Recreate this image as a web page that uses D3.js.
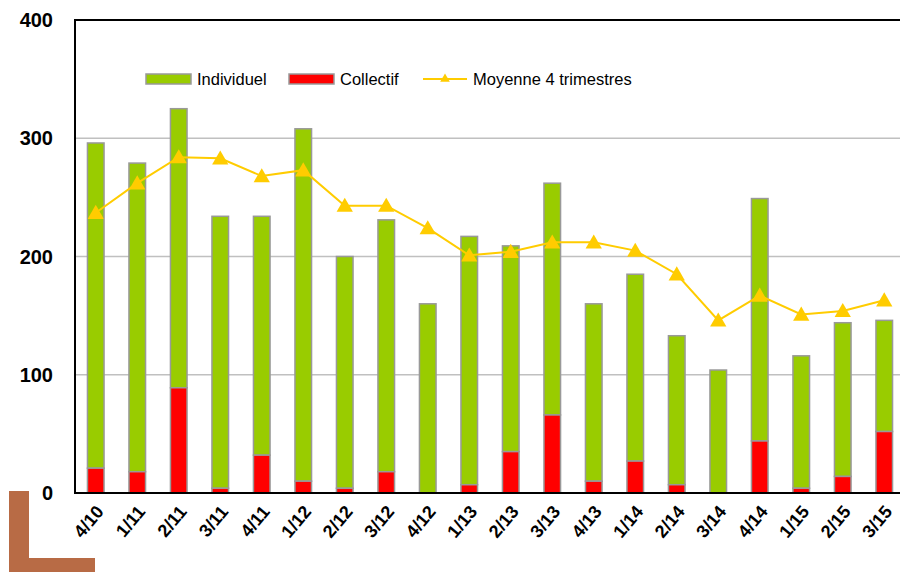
<!DOCTYPE html>
<html><head><meta charset="utf-8">
<script src="https://cdn.jsdelivr.net/npm/d3@7/dist/d3.min.js"></script>
<style>body{margin:0;background:#fff;} svg{display:block;font-family:"Liberation Sans",Arial,sans-serif;}</style>
</head><body>
<script>
const categories = ["4/10","1/11","2/11","3/11","4/11","1/12","2/12","3/12","4/12","1/13","2/13","3/13","4/13","1/14","2/14","3/14","4/14","1/15","2/15","3/15"];
const collectif = [21,18,89,4,32,10,4,18,0,7,35,66,10,27,7,0,44,4,14,52];
const individuel = [275,261,236,230,202,298,196,213,160,210,174,196,150,158,126,104,205,112,130,94];
const moyenne = [237,262,284,283,268,273,243,243,224,201,204,212,212,205,185,146,167,151,154,163];
const yTicks = [0,100,200,300,400];
const seriesNames = ["Individuel","Collectif","Moyenne 4 trimestres"];

const W = 900, H = 572;
const svg = d3.select("body").append("svg").attr("width", W).attr("height", H);
const pLeft = 75, pRight = 905, pTop = 20, pBottom = 493;

const x = d3.scaleBand().domain(categories).range([pLeft, pRight]).paddingInner(0.6).paddingOuter(0.3);
const y = d3.scaleLinear().domain([0, 400]).range([pBottom, pTop]);

// gridlines
svg.append("g").selectAll("line").data(yTicks.filter(t => t > 0 && t < 400)).join("line")
  .attr("x1", pLeft).attr("x2", W).attr("y1", d => y(d)).attr("y2", d => y(d))
  .attr("stroke", "#c0c0c0").attr("stroke-width", 1.5);

// bars
const g = svg.append("g");
categories.forEach((c, i) => {
  const bw = x.bandwidth();
  g.append("rect").attr("x", x(c)).attr("y", y(collectif[i] + individuel[i]))
    .attr("width", bw).attr("height", y(collectif[i]) - y(collectif[i] + individuel[i]))
    .attr("fill", "#99cc00").attr("stroke", "#999").attr("stroke-width", 1.5);
  if (collectif[i] > 0) {
    g.append("rect").attr("x", x(c)).attr("y", y(collectif[i]))
      .attr("width", bw).attr("height", y(0) - y(collectif[i]))
      .attr("fill", "#ff0000").attr("stroke", "#999").attr("stroke-width", 1.5);
  }
});

// axes lines
svg.append("line").attr("x1", pLeft).attr("x2", W).attr("y1", pTop).attr("y2", pTop).attr("stroke", "#000").attr("stroke-width", 2);
svg.append("line").attr("x1", pLeft).attr("x2", W).attr("y1", pBottom).attr("y2", pBottom).attr("stroke", "#000").attr("stroke-width", 2);
svg.append("line").attr("x1", pLeft).attr("x2", pLeft).attr("y1", pTop - 1).attr("y2", pBottom + 1).attr("stroke", "#000").attr("stroke-width", 2);

// line
const cx = c => x(c) + x.bandwidth() / 2;
svg.append("path").datum(moyenne)
  .attr("d", d3.line().x((d, i) => cx(categories[i])).y(d => y(d)))
  .attr("fill", "none").attr("stroke", "#ffcc00").attr("stroke-width", 2);
const tri = d3.symbol().type(d3.symbolTriangle).size(115);
svg.append("g").selectAll("path").data(moyenne).join("path")
  .attr("d", tri).attr("transform", (d, i) => `translate(${cx(categories[i])},${y(d) + 1.5})`)
  .attr("fill", "#ffcc00");

// y labels
svg.append("g").selectAll("text").data(yTicks).join("text")
  .attr("x", 53).attr("y", d => y(d) + 7).attr("text-anchor", "end")
  .attr("font-size", 20).attr("font-weight", "bold").text(d => d);

// x labels
svg.append("g").selectAll("text").data(categories).join("text")
  .attr("transform", c => `translate(${cx(c) + 4},${508}) rotate(-50)`)
  .attr("text-anchor", "end").attr("dy", "0.35em")
  .attr("font-size", 18).attr("font-weight", "bold").text(c => c);

// legend
const ly = 79;
svg.append("rect").attr("x", 146).attr("y", ly - 5).attr("width", 45).attr("height", 10).attr("fill", "#99cc00").attr("stroke", "#999").attr("stroke-width", 1.5);
svg.append("text").attr("x", 197).attr("y", ly + 6).attr("font-size", 16.5).text(seriesNames[0]);
svg.append("rect").attr("x", 289).attr("y", ly - 5).attr("width", 45).attr("height", 10).attr("fill", "#ff0000").attr("stroke", "#999").attr("stroke-width", 1.5);
svg.append("text").attr("x", 340).attr("y", ly + 6).attr("font-size", 16.5).text(seriesNames[1]);
svg.append("line").attr("x1", 423).attr("x2", 467).attr("y1", ly).attr("y2", ly).attr("stroke", "#ffcc00").attr("stroke-width", 2);
svg.append("path").attr("d", d3.symbol().type(d3.symbolTriangle).size(40)).attr("transform", `translate(445,${ly})`).attr("fill", "#ffcc00");
svg.append("text").attr("x", 473).attr("y", ly + 6).attr("font-size", 16.5).text(seriesNames[2]);

// brown L decoration
svg.append("rect").attr("x", 9).attr("y", 491).attr("width", 20).attr("height", 81).attr("fill", "#b86b45");
svg.append("rect").attr("x", 9).attr("y", 558).attr("width", 86).attr("height", 14).attr("fill", "#b86b45");
</script>
</body></html>
